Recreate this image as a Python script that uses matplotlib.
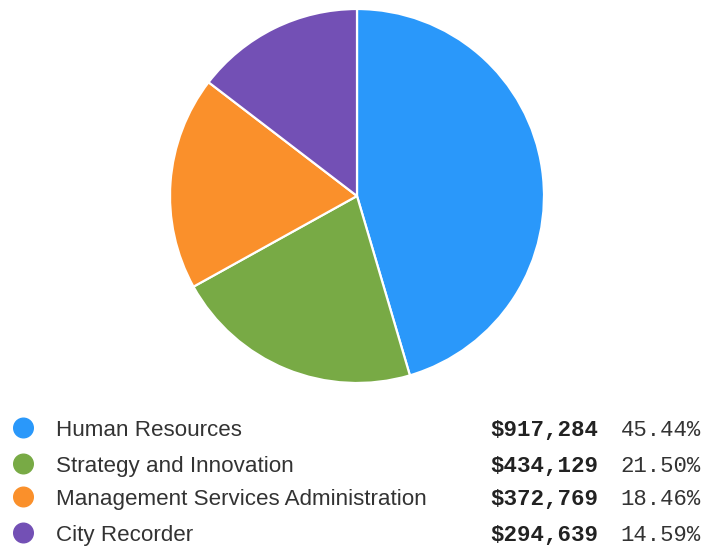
import matplotlib
matplotlib.use("Agg")
import matplotlib.pyplot as plt
from matplotlib.patches import Circle

categories = ["Human Resources", "Strategy and Innovation",
              "Management Services Administration", "City Recorder"]
amounts = [917284, 434129, 372769, 294639]
percents = [45.44, 21.50, 18.46, 14.59]
colors = ["#2A98FA", "#78AA45", "#FA902B", "#7350B5"]

W, H = 704, 546
fig = plt.figure(figsize=(W / 100, H / 100), dpi=100)
ax = fig.add_axes([0, 0, 1, 1])

# pie, pixel coordinates (y measured from bottom)
wedges, _ = ax.pie(amounts, colors=colors, startangle=90, counterclock=False,
                   center=(357, H - 196), radius=187,
                   wedgeprops=dict(edgecolor="white", linewidth=1.6,
                                   joinstyle="round"))
ax.set_xlim(0, W)
ax.set_ylim(0, H)
ax.set_aspect("equal")
ax.axis("off")

# legend rows
row_y = [428, 464, 497, 533]
for y, name, amt, pct, c in zip(row_y, categories, amounts, percents, colors):
    yy = H - y
    base = yy - 8
    ax.add_patch(Circle((23.5, yy), 9.8, color=c))
    ax.text(56, base, name, fontsize=16.1, family="Liberation Sans",
            color="#333333", va="baseline", ha="left")
    ax.text(598, base, f"${amt:,}", fontsize=16.2, family="Liberation Mono",
            weight="bold", color="#222222", va="baseline", ha="right")
    ax.text(701, base, f"{pct:.2f}%", fontsize=16, family="Liberation Mono",
            color="#333333", va="baseline", ha="right")

fig.savefig("out.png", dpi=100)
